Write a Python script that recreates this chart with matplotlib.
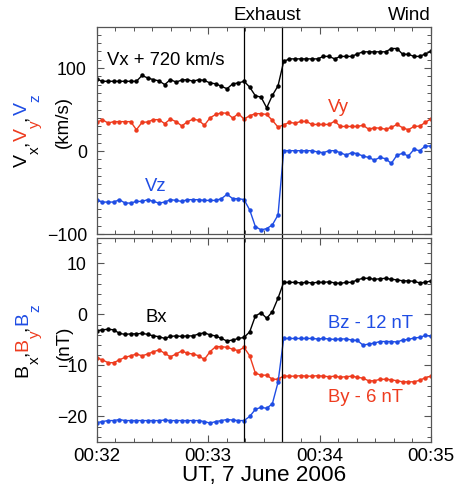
import numpy as np
import matplotlib
matplotlib.use("Agg")
import matplotlib.pyplot as plt
from matplotlib import transforms
from matplotlib.ticker import MultipleLocator, FixedLocator

plt.rcParams["font.family"] = ["Liberation Sans", "DejaVu Sans"]

# seconds after 00:32:00 UT, ~3 s spin resolution
t = np.linspace(0, 180, 60)
t_edges = [79.5, 100.0]

vx_plus720 = [86.6, 84, 84, 84, 84, 84, 84, 84, 91, 88,
              86, 84.5, 80, 86, 83, 85.5, 86, 84, 86, 85,
              82, 81, 78, 75, 81, 82, 84, 77, 66.5, 65,
              52, 67, 78.5, 108, 111, 111, 111, 111, 111, 111,
              114, 114, 111, 114, 114, 114, 117, 119.5, 119.5, 119.5,
              119.5, 119.5, 123.5, 123.5, 116.5, 116.5, 114, 114, 117, 120]
vy = [34.5, 37.8, 33.7, 35.4, 35.4, 35.4, 35.4, 25.6, 34.5, 35,
      37.8, 37.8, 33, 38.5, 35.4, 30.3, 35, 38.5, 37, 31,
      40, 44, 46, 45.5, 39.7, 45, 38.5, 42.5, 45, 45,
      44, 37, 28.8, 31.6, 34.5, 33.5, 35.6, 35.6, 32, 32,
      32, 32, 36, 29.6, 29.6, 29.6, 29.6, 31, 26.3, 28,
      27.5, 26.3, 28.5, 32, 28, 25.6, 29.6, 30, 34.5, 39]
vz = [-58.6, -61.5, -61.5, -61.5, -58.6, -62.7, -62.7, -60.7, -60.7, -58.6,
      -60.7, -62.7, -61.5, -58.6, -59.5, -60.7, -58.6, -58.6, -58.6, -59.5,
      -59.5, -59.5, -57.4, -52.2, -57.4, -57.4, -58.5, -71, -91, -95,
      -93.5, -89, -77, 0.4, 0.4, 0.4, 0.4, 0.4, 0.4, -1.2,
      -2, 0.4, 0.4, -2, -4.9, -2, -3.2, -6.1, -7.7, -10.9,
      -7.7, -9.3, -15, -4.9, -2.8, -6.1, 2, 0.4, 6, 6]

bx = [-3.2, -3.0, -2.9, -3.0, -3.7, -3.9, -3.8, -3.8, -3.7, -3.9,
      -4.2, -4.35, -4.7, -4.3, -4.2, -4.3, -4.2, -4.2, -3.8, -3.6,
      -4.0, -4.2, -4.7, -5.2, -5.0, -4.7, -4.5, -3.4, -0.3, 0.35,
      -0.75, 0.55, 3.2, 6.3, 6.3, 6.3, 6.2, 6.3, 6.2, 6.3,
      6.3, 6.4, 6.2, 6.1, 6.3, 6.3, 6.8, 7.1, 7.1, 6.9,
      7.0, 7.1, 6.9, 6.8, 6.6, 6.6, 6.5, 6.2, 6.3, 6.6]
by_minus6 = [-8.5, -8.9, -9.45, -9.45, -8.9, -8.4, -8.1, -7.75, -8.1, -7.75,
             -7.3, -6.95, -7.6, -8.3, -7.75, -7.15, -7.6, -7.75, -8.1, -8.8,
             -7.3, -6.3, -6.3, -6.45, -6.8, -7.1, -6.45, -8.1, -11.5, -11.9,
             -11.9, -12.7, -12.7, -12.05, -12.1, -12.1, -12.0, -12.1, -12.1, -12.0,
             -12.1, -12.2, -12.1, -12.3, -12.2, -12.1, -12.3, -12.5, -13.0, -13.0,
             -12.7, -12.7, -12.8, -13.0, -13.2, -13.2, -13.2, -12.9, -12.4, -12.1]
bz_minus12 = [-21.2, -21.0, -20.8, -20.8, -20.6, -20.8, -20.8, -20.8, -20.8, -20.8,
              -20.8, -20.8, -20.7, -20.8, -20.8, -20.8, -20.8, -20.8, -20.8, -21.0,
              -21.3, -21.0, -20.8, -20.6, -20.7, -20.8, -20.8, -20.0, -18.6, -18.2,
              -18.4, -17.5, -13.3, -4.7, -4.7, -4.7, -4.7, -4.7, -4.7, -4.8,
              -4.7, -4.8, -4.9, -4.8, -4.8, -5.0, -5.1, -6.0, -5.8, -5.6,
              -5.3, -5.3, -5.3, -5.4, -5.0, -4.9, -4.6, -4.5, -4.1, -4.3]

xtick_pos = [0, 60, 120, 180]
xtick_labels = ["00:32", "00:33", "00:34", "00:35"]

BLACK = "black"
RED = "#ee3b1e"
BLUE = "#1f4de4"


def stacked_label(fig, x, y, parts):
    # multi-coloured rotated label, pieces stacked bottom to top
    renderer = fig.canvas.get_renderer()
    adv = 0.0
    for s, c, size, drop in parts:
        tr = transforms.offset_copy(fig.transFigure, x=drop, y=adv, units="dots")
        txt = fig.text(x, y, s, color=c, fontsize=size, rotation=90,
                       rotation_mode="anchor", ha="left", va="baseline",
                       transform=tr)
        adv += txt.get_window_extent(renderer).height


def style_axes(ax):
    ax.set_xlim(0, 180)
    ax.xaxis.set_major_locator(FixedLocator(xtick_pos))
    ax.xaxis.set_minor_locator(MultipleLocator(10))
    ax.tick_params(which="both", direction="in", top=True, right=True,
                   color="#555555")
    ax.tick_params(which="major", length=5, width=0.8)
    ax.tick_params(which="minor", length=2.8, width=0.7)
    ax.tick_params(axis="y", labelsize=12.8, pad=7)
    ax.tick_params(axis="x", labelsize=13.5, pad=4.5)
    for sp in ax.spines.values():
        sp.set_color("#555555")
        sp.set_linewidth(0.9)


fig = plt.figure(figsize=(4.63, 4.90), dpi=100)
ax1 = fig.add_axes([0.2089, 0.5224, 0.722, 0.4235])
ax2 = fig.add_axes([0.2089, 0.098, 0.722, 0.4163])

line_kw = dict(lw=1.0, marker="o", ms=2.2)

ax1.plot(t, vx_plus720, color=BLACK, mec=BLACK, **line_kw)
ax1.plot(t, vy, color=RED, mec=RED, **line_kw)
ax1.plot(t, vz, color=BLUE, mec=BLUE, **line_kw)
ax1.set_ylim(-100, 150)
ax1.yaxis.set_major_locator(FixedLocator([-100, 0, 100]))
ax1.yaxis.set_minor_locator(MultipleLocator(10))
style_axes(ax1)
ax1.tick_params(axis="x", labelbottom=False)

ax2.plot(t, bx, color=BLACK, mec=BLACK, **line_kw)
ax2.plot(t, by_minus6, color=RED, mec=RED, **line_kw)
ax2.plot(t, bz_minus12, color=BLUE, mec=BLUE, **line_kw)
ax2.set_ylim(-25, 15)
ax2.yaxis.set_major_locator(FixedLocator([-20, -10, 0, 10]))
ax2.yaxis.set_minor_locator(MultipleLocator(2))
style_axes(ax2)
ax2.set_xticklabels(xtick_labels)
ax2.set_xlabel("UT, 7 June 2006", fontsize=16.2, labelpad=0)

for tl in t_edges:
    ax1.axvline(tl, ymin=-0.03, ymax=1, color="black", lw=0.9, clip_on=False)
    ax2.axvline(tl, color="black", lw=0.9)

ax1.text(92, 1.055, "Exhaust", transform=ax1.get_xaxis_transform(),
         ha="center", va="center", fontsize=13.5)
ax1.text(180, 1.055, "Wind", transform=ax1.get_xaxis_transform(),
         ha="right", va="center", fontsize=13.5)

ax1.text(5.5, 108.5, "Vx + 720 km/s", color=BLACK, fontsize=13.3,
         ha="left", va="center")
ax1.text(130.3, 52, "Vy", color=RED, fontsize=13.3, ha="center", va="center")
ax1.text(32, -43, "Vz", color=BLUE, fontsize=13.3, ha="center", va="center")

ax2.text(32.2, -0.5, "Bx", color=BLACK, fontsize=13.3, ha="center", va="center")
ax2.text(147.3, -1.7, "Bz - 12 nT", color=BLUE, fontsize=13.3,
         ha="center", va="center")
ax2.text(144.9, -16.2, "By - 6 nT", color=RED, fontsize=13.3,
         ha="center", va="center")

sub = 11
drop = 12
stacked_label(fig, 0.0583, 0.659, [
    ("V", BLACK, 14, 0), ("x", BLACK, sub, drop), (",", BLACK, 14, 0),
    ("V", RED, 14, 0), ("y", RED, sub, drop), (",", BLACK, 14, 0),
    ("V", BLUE, 14, 0), ("z", BLUE, sub, drop)])
fig.text(0.1469, 0.751, "(km/s)", fontsize=13.5, rotation=90,
         rotation_mode="anchor", ha="center", va="baseline")

stacked_label(fig, 0.0583, 0.2306, [
    ("B", BLACK, 14, 0), ("x", BLACK, sub, drop), (",", BLACK, 14, 0),
    ("B", RED, 14, 0), ("y", RED, sub, drop), (",", BLACK, 14, 0),
    ("B", BLUE, 14, 0), ("z", BLUE, sub, drop)])
fig.text(0.149, 0.30, "(nT)", fontsize=13.5, rotation=90,
         rotation_mode="anchor", ha="center", va="baseline")

fig.savefig("out.png", dpi=100)
plt.close(fig)
